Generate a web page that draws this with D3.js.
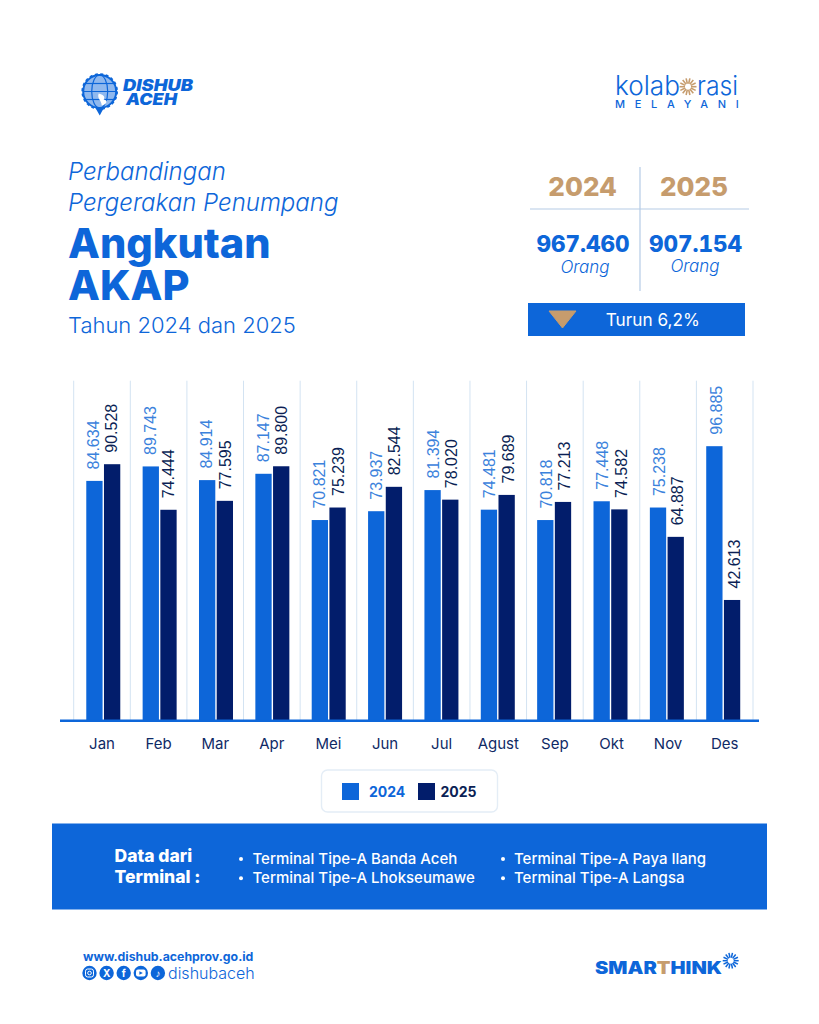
<!DOCTYPE html>
<html lang="id">
<head>
<meta charset="utf-8">
<title>Perbandingan Pergerakan Penumpang Angkutan AKAP</title>
<script src="https://cdn.jsdelivr.net/npm/d3@7/dist/d3.min.js"></script>
<style>
html,body{margin:0;padding:0;background:#fff}
svg{display:block;font-family:Inter,"Liberation Sans",sans-serif}
</style>
</head>
<body>
<svg id="poster" width="819" height="1024"></svg>
<script>
const months = ["Jan","Feb","Mar","Apr","Mei","Jun","Jul","Agust","Sep","Okt","Nov","Des"];
const years = ["2024","2025"];
const values2024 = [84634,89743,84914,87147,70821,73937,81394,74481,70818,77448,75238,96885];
const values2025 = [90528,74444,77595,89800,75239,82544,78020,79689,77213,74582,64887,42613];
const totals = ["967.460","907.154"];
const terminalsLeft = ["Terminal Tipe-A Banda Aceh","Terminal Tipe-A Lhokseumawe"];
const terminalsRight = ["Terminal Tipe-A Paya Ilang","Terminal Tipe-A Langsa"];

const BLUE="#0d66d9", NAVY="#021d6b", TAN="#c69c6d", LABEL="#3b82dc", INK="#0f2a66";
const svg=d3.select("#poster");
const idFmt=d3.formatLocale({decimal:",",thousands:".",grouping:[3],currency:["",""]}).format(",d");

function txt(x,y,s,o={}){
  const t=svg.append("text").attr("x",x).attr("y",y).text(s)
    .attr("font-size",o.size||14).attr("font-weight",o.weight||400)
    .attr("font-style",o.italic?"italic":"normal")
    .attr("fill",o.fill||BLUE).attr("text-anchor",o.anchor||"start")
    .attr("letter-spacing",o.spacing||null)
    .attr("font-family",o.family||null);
  if(o.fit) t.attr("textLength",o.fit).attr("lengthAdjust","spacingAndGlyphs");
  return t;
}
function sunburst(cx,cy,r0,r1,n,color,w){
  svg.append("g").selectAll("line").data(d3.range(n)).join("line")
    .attr("x1",i=>cx+r0*Math.cos(i/n*2*Math.PI)).attr("y1",i=>cy+r0*Math.sin(i/n*2*Math.PI))
    .attr("x2",i=>cx+r1*Math.cos(i/n*2*Math.PI)).attr("y2",i=>cy+r1*Math.sin(i/n*2*Math.PI))
    .attr("stroke",color).attr("stroke-width",w);
}

/* Agency mark: globe with a cog rim and a pin-shaped tail */
const globe=svg.append("g").attr("transform","translate(99.7,91.5)");
globe.append("path").attr("d","M-5 15 L0 24 L5 15 Z").attr("fill",BLUE);
globe.append("circle").attr("r",16.5).attr("fill","#8fb8ee").attr("stroke",BLUE).attr("stroke-width",2);
globe.append("circle").attr("r",17.5).attr("fill","none").attr("stroke",BLUE).attr("stroke-width",1.6).attr("stroke-dasharray","3 2.5");
globe.append("ellipse").attr("rx",8).attr("ry",16.5).attr("fill","none").attr("stroke",BLUE).attr("stroke-width",1.2);
[-8,0,8].forEach(y=>globe.append("line").attr("x1",-Math.sqrt(272-y*y)).attr("x2",Math.sqrt(272-y*y)).attr("y1",y).attr("y2",y).attr("stroke",BLUE).attr("stroke-width",1.2));
globe.append("path").attr("d","M-1 2 C3 3 6 5 4 8 C9 9 7 13 2 14 C2 9 -3 7 -1 2 Z").attr("fill","#fff");
txt(123,91,"DISHUB",{size:15.5,weight:900,italic:true,fit:70});
txt(126,105,"ACEH",{size:15.5,weight:900,italic:true,fit:51});

/* Campaign wordmark */
txt(615,94.5,"kolab",{size:26.5,weight:300,fit:65});
sunburst(688,86.7,3,8.5,14,TAN,1.6);
txt(697,94.5,"rasi",{size:26.5,weight:300,fit:41});
txt(615,107.5,"MELAYANI",{size:11,weight:500,spacing:9.7});

/* Heading block */
txt(68,180,"Perbandingan",{size:24,italic:true,weight:300});
txt(68,211,"Pergerakan Penumpang",{size:24,italic:true,weight:300});
txt(68,258,"Angkutan",{size:41.5,weight:800});
txt(68,300,"AKAP",{size:41.5,weight:800});
txt(68,333,"Tahun 2024 dan 2025",{size:22,weight:300});

/* Totals panel */
svg.append("line").attr("x1",640).attr("x2",640).attr("y1",167).attr("y2",291).attr("stroke","#b5cbe6").attr("stroke-width",1.2);
svg.append("line").attr("x1",530).attr("x2",749).attr("y1",209).attr("y2",209).attr("stroke","#b5cbe6").attr("stroke-width",1.2);
txt(582.7,196,years[0],{size:26,weight:800,fill:TAN,anchor:"middle"});
txt(694,196,years[1],{size:26,weight:800,fill:TAN,anchor:"middle"});
txt(583,252,totals[0],{size:22.5,weight:800,anchor:"middle"}).style("font-variant-numeric","tabular-nums");
txt(695.5,252,totals[1],{size:22.5,weight:800,anchor:"middle"}).style("font-variant-numeric","tabular-nums");
txt(585,273,"Orang",{size:17,italic:true,weight:300,anchor:"middle"});
txt(695,272,"Orang",{size:17,italic:true,weight:300,anchor:"middle"});
svg.append("rect").attr("x",528).attr("y",303).attr("width",217).attr("height",33).attr("fill",BLUE);
svg.append("path").attr("d","M549 311 L576 311 L562.5 328 Z").attr("fill",TAN).attr("stroke",TAN).attr("stroke-width",1).attr("stroke-linejoin","round");
txt(652.8,326,"Turun 6,2%",{size:17.2,fill:"#fff",anchor:"middle"});

/* Paired bar chart: month bands carry the grid, ticks and labels; the bars sit on a slightly tighter band */
const yBase=720.7, yTop=380.7;
const x=d3.scaleBand().domain(months).range([73.7,753]);
const xBars=d3.scaleBand().domain(months).range([75.1,751.4]);
const mid=xBars.bandwidth()/2;
const x1=d3.scaleBand().domain(years).range([mid-17,mid+17]).paddingInner(.079);
const y=d3.scaleLinear().domain([0,120000]).range([yBase,yTop]);

svg.append("g").selectAll("line").data(d3.range(months.length+1)).join("line")
  .attr("x1",i=>73.7+i*x.step()).attr("x2",i=>73.7+i*x.step())
  .attr("y1",yTop).attr("y2",yBase).attr("stroke","#d3e3f2").attr("stroke-width",1);

const series=[
  {year:years[0],vals:values2024,fill:BLUE,label:LABEL,base:25.3},
  {year:years[1],vals:values2025,fill:NAVY,label:"#0b1f55",base:43.6}
];
series.forEach(s=>{
  const g=svg.append("g");
  g.selectAll("rect").data(s.vals).join("rect")
    .attr("x",(d,i)=>xBars(months[i])+x1(s.year)).attr("y",d=>y(d))
    .attr("width",x1.bandwidth()).attr("height",d=>yBase-y(d)).attr("fill",s.fill);
  g.selectAll("text").data(s.vals).join("text")
    .attr("transform",(d,i)=>`translate(${x(months[i])+s.base},${y(d)-11.5}) rotate(-90)`)
    .attr("font-family","Liberation Sans").attr("font-size",16).attr("fill",s.label)
    .text(d=>idFmt(d));
});

const xAxis=svg.append("g").attr("transform",`translate(0,${yBase})`)
  .call(d3.axisBottom(x).tickSize(0).tickPadding(17.5));
xAxis.select(".domain").remove();
xAxis.selectAll("text").attr("font-size",15).attr("fill",INK).attr("font-family","Inter");
svg.append("line").attr("x1",60).attr("x2",759).attr("y1",yBase).attr("y2",yBase).attr("stroke",BLUE).attr("stroke-width",2.4);

/* Legend */
svg.append("rect").attr("x",321.5).attr("y",770).attr("width",176).attr("height",42).attr("rx",6).attr("fill","#fff").attr("stroke","#e4edf6").attr("stroke-width",1.4);
svg.append("rect").attr("x",342).attr("y",783).attr("width",17).attr("height",17).attr("fill",BLUE);
txt(369,797,years[0],{size:14,weight:700});
svg.append("rect").attr("x",418).attr("y",783).attr("width",17).attr("height",17).attr("fill",NAVY);
txt(440.5,797,years[1],{size:14,weight:700,fill:"#0b1f55"});

/* Source terminals band */
svg.append("rect").attr("x",52).attr("y",823.5).attr("width",715).attr("height",86).attr("fill",BLUE);
txt(114.5,861.5,"Data dari",{size:17.5,weight:800,fill:"#fff"});
txt(114.5,883.3,"Terminal :",{size:17.5,weight:800,fill:"#fff"});
[[241,252.5,terminalsLeft],[503,514,terminalsRight]].forEach(([bx,tx,list])=>{
  list.forEach((t,i)=>{
    const ty=864+i*19.3;
    svg.append("circle").attr("cx",bx).attr("cy",ty-5).attr("r",2).attr("fill","#fff");
    txt(tx,ty,t,{size:15,weight:500,fill:"#fff"});
  });
});

/* Footer: address, social badges, credit */
txt(83,960.7,"www.dishub.acehprov.go.id",{size:12.3,weight:700});
const socialNames=["instagram","x","facebook","youtube","tiktok"];
socialNames.forEach((name,i)=>{
  const cx=89.5+i*17.1, cy=973;
  svg.append("circle").attr("cx",cx).attr("cy",cy).attr("r",7.2).attr("fill",BLUE);
  if(name==="instagram"){
    svg.append("rect").attr("x",cx-4).attr("y",cy-4).attr("width",8).attr("height",8).attr("rx",2.2).attr("fill","none").attr("stroke","#fff").attr("stroke-width",1);
    svg.append("circle").attr("cx",cx).attr("cy",cy).attr("r",1.8).attr("fill","none").attr("stroke","#fff").attr("stroke-width",1);
  } else if(name==="youtube"){
    svg.append("rect").attr("x",cx-4.8).attr("y",cy-3.4).attr("width",9.6).attr("height",6.8).attr("rx",2).attr("fill","#fff");
    svg.append("path").attr("d",`M${cx-1.4} ${cy-1.8} L${cx+2} ${cy} L${cx-1.4} ${cy+1.8} Z`).attr("fill",BLUE);
  } else {
    txt(cx,cy+3.6,{x:"X",facebook:"f",tiktok:"♪"}[name],{size:10,weight:700,fill:"#fff",anchor:"middle"});
  }
});
txt(168,978.5,"dishubaceh",{size:16,weight:300});
const credit=txt(595,974,"",{size:17,weight:900,fit:127});
credit.selectAll("tspan").data(["SMAR","T","HINK"]).join("tspan").text(d=>d).attr("fill",d=>d==="T"?TAN:BLUE);
sunburst(730.7,960.7,3,8,14,BLUE,1.5);
</script>
</body>
</html>
